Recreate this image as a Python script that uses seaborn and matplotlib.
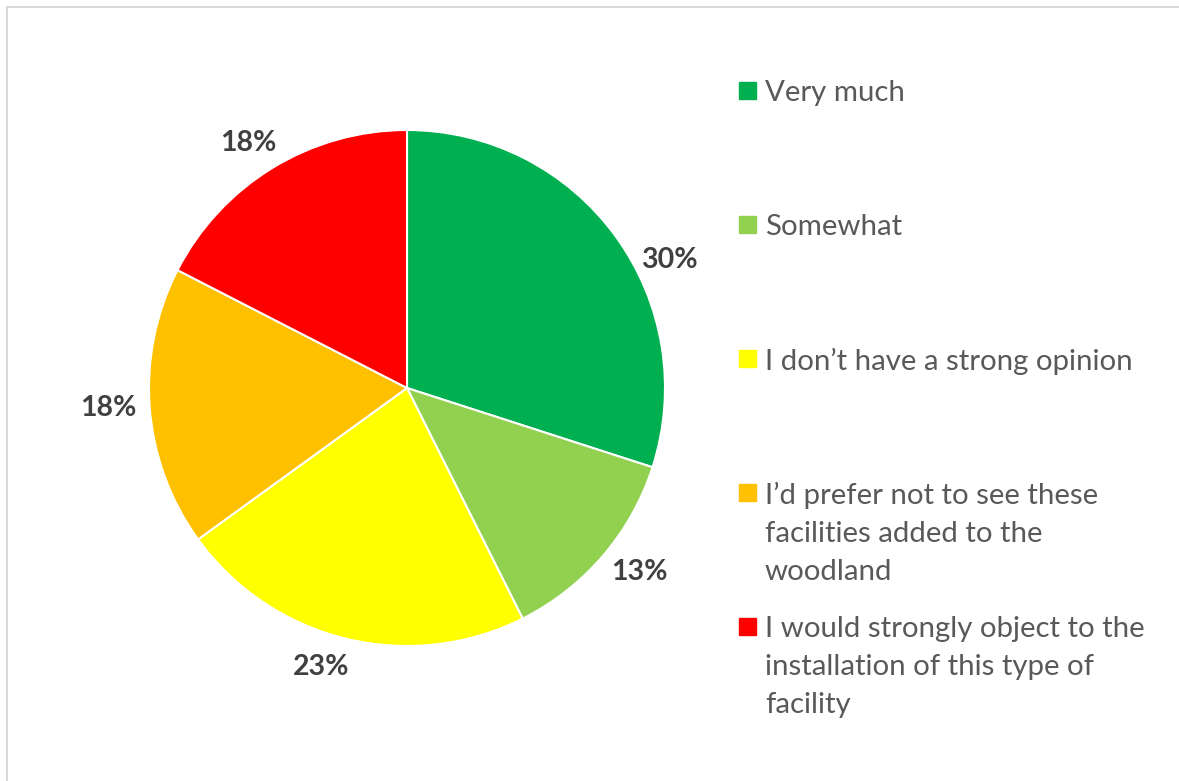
import textwrap
import numpy as np
import matplotlib
matplotlib.use("Agg")
import matplotlib.pyplot as plt
from matplotlib.patches import Rectangle
from matplotlib.lines import Line2D
import seaborn as sns

categories = [
    "Very much",
    "Somewhat",
    "I don’t have a strong opinion",
    "I’d prefer not to see these facilities added to the woodland",
    "I would strongly object to the installation of this type of facility",
]
shares = [29.97, 12.63, 22.42, 17.53, 17.45]
pct_labels = ["30%", "13%", "23%", "18%", "18%"]
colors = ["#00B050", "#92D050", "#FFFF00", "#FFC000", "#FF0000"]
# Excel "best fit" nudges of the data labels (degrees off the wedge middle)
label_shift = [-10, 2.3, -3.4, -0.5, 1.5]
label_dist = [1.13, 1.15, 1.13, 1.16, 1.13]

sns.set_theme(style="white")
plt.rcParams["font.family"] = ["Lato", "DejaVu Sans"]

W, H = 1179, 781
fig = plt.figure(figsize=(W / 100, H / 100), dpi=100)

# chart border (only top and left visible in the crop)
fig.add_artist(Line2D([7 / W, 7 / W], [0, 1 - 7 / H], transform=fig.transFigure,
                      color="#D9D9D9", lw=1.5))
fig.add_artist(Line2D([7 / W, 1], [1 - 7 / H, 1 - 7 / H], transform=fig.transFigure,
                      color="#D9D9D9", lw=1.5))

# pie
cx, cy, r = 407, 388, 258
ax = fig.add_axes([(cx - r) / W, (H - cy - r) / H, 2 * r / W, 2 * r / H])
wedges, _ = ax.pie(
    shares, colors=colors, startangle=90, counterclock=False,
    wedgeprops=dict(edgecolor="white", linewidth=1.5),
)
for w, lab, sh, d in zip(wedges, pct_labels, label_shift, label_dist):
    ang = np.deg2rad((w.theta1 + w.theta2) / 2 + sh)
    ax.text(d * np.cos(ang), d * np.sin(ang), lab, ha="center", va="center",
            fontsize=20.5, fontweight="bold", color="#404040")
ax.set_xlim(-1, 1)
ax.set_ylim(-1, 1)
ax.set_aspect("equal")

# legend drawn by hand to keep Excel's even spacing
x_box, x_text = 739, 765
base0, step = 101, 134
for i, (cat, col) in enumerate(zip(categories, colors)):
    base = base0 + i * step
    fig.add_artist(Rectangle((x_box / W, 1 - (base - 2) / H), 17 / W, 17 / H,
                             transform=fig.transFigure, color=col))
    fig.text(x_text / W, 1 - (base - 21) / H, textwrap.fill(cat, 30), fontsize=21.2,
             color="#595959", va="top", ha="left", linespacing=1.57)

fig.savefig("out.png", dpi=100)
